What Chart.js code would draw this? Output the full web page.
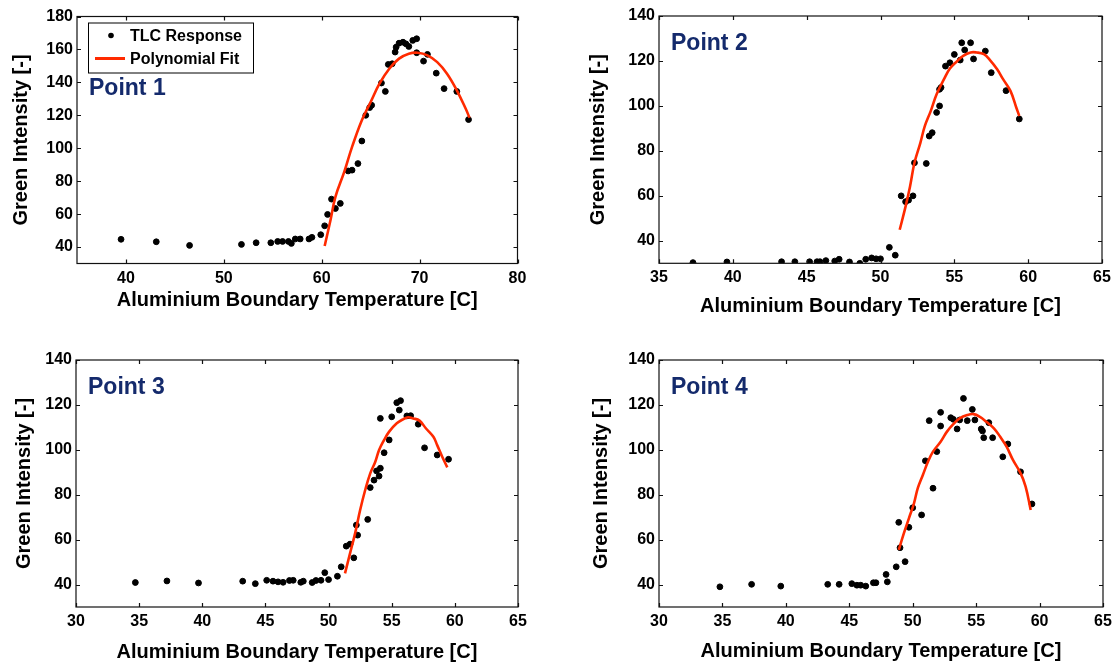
<!DOCTYPE html>
<html>
<head>
<meta charset="utf-8">
<script src="https://cdn.jsdelivr.net/npm/chart.js@4.4.1/dist/chart.umd.min.js"></script>
<style>
  html, body { margin: 0; padding: 0; background: #fff; }
  #wrap { position: relative; width: 1117px; height: 665px; overflow: hidden; }
  canvas { position: absolute; }
</style>
</head>
<body>
<div id="wrap">
  <canvas id="c1" width="558" height="330" style="left:0;top:0"></canvas>
  <canvas id="c2" width="559" height="330" style="left:558px;top:0"></canvas>
  <canvas id="c3" width="558" height="335" style="left:0;top:330px"></canvas>
  <canvas id="c4" width="559" height="335" style="left:558px;top:330px"></canvas>
</div>
<script>
// ---- Point 1 ----
var p1Temp  = [39.5, 43.1, 46.5, 51.8, 53.3, 54.8, 55.5, 56.0, 56.6, 56.9, 57.3, 57.8, 58.7, 59.0, 59.9,
               60.3, 60.6, 61.0, 61.4, 61.9, 62.7, 63.1, 63.7, 64.1, 64.5, 64.9, 65.1, 66.1, 66.5, 66.8,
               67.2, 67.5, 67.6, 67.9, 68.3, 68.6, 68.9, 69.3, 69.7, 69.7, 70.4, 70.8, 71.7, 72.5, 73.8, 75.0];
var p1Green = [44.7, 43.2, 41.0, 41.6, 42.6, 42.6, 43.4, 43.4, 43.4, 42.2, 44.9, 44.9, 44.9, 45.9, 47.5,
               52.9, 59.8, 69.1, 63.4, 66.5, 86.2, 86.7, 90.7, 104.4, 120.0, 124.7, 126.1, 139.6, 134.5, 150.9,
               151.3, 158.4, 161.4, 163.8, 164.4, 163.4, 161.8, 165.5, 166.5, 158.0, 152.9, 157.0, 145.6, 136.2, 134.5, 117.4];
var p1FitX  = [60.3, 60.9, 61.4, 62.3, 63.1, 64.1, 65.0, 65.9, 66.9, 67.9, 68.9, 69.8, 70.8, 71.8, 72.8, 73.8, 74.7, 75.1];
var p1FitY  = [40.6, 56.4, 70.5, 85.6, 100.8, 117.0, 128.1, 139.2, 148.3, 154.4, 157.4, 158.0, 156.4, 152.3, 145.3, 135.2, 124.1, 118.5];
var p1XTicks = [40, 50, 60, 70, 80];
var p1YTicks = [40, 60, 80, 100, 120, 140, 160, 180];

// ---- Point 2 ----
var p2Temp  = [37.3, 39.6, 43.3, 44.2, 45.2, 45.7, 45.9, 46.3, 46.9, 47.2, 47.9, 48.6, 49.0, 49.4, 49.7, 50.0, 50.6, 51.0,
               51.4, 51.7, 51.9, 52.2, 52.3, 53.1, 53.3, 53.5, 53.8, 54.0, 54.0, 54.1, 54.4, 54.7, 55.0, 55.4, 55.5,
               55.7, 56.1, 56.3, 57.1, 57.5, 58.5, 59.4];
var p2Green = [30.3, 30.6, 30.7, 30.7, 30.7, 30.7, 30.7, 31.2, 31.0, 31.8, 30.6, 30.0, 31.8, 32.4, 32.0, 32.0, 37.1, 33.6,
               60.0, 57.4, 58.1, 60.0, 74.7, 74.4, 86.6, 88.1, 97.1, 100.0, 107.4, 108.2, 117.7, 119.2, 122.9, 120.4, 128.1,
               124.9, 128.1, 120.9, 124.4, 114.8, 106.8, 94.2];
var p2FitX  = [51.3, 51.7, 52.0, 52.3, 52.7, 53.0, 53.4, 53.8, 54.3, 54.7, 55.2, 55.6, 56.1, 56.5, 57.0, 57.4, 57.9, 58.3, 58.8, 59.2, 59.4];
var p2FitY  = [44.9, 55.3, 64.2, 74.7, 83.6, 91.0, 97.7, 105.2, 111.9, 116.6, 120.0, 122.3, 123.8, 123.8, 123.0, 120.5, 116.3, 111.9, 106.7, 99.2, 95.5];
var p2XTicks = [35, 40, 45, 50, 55, 60, 65];
var p2YTicks = [40, 60, 80, 100, 120, 140];

// ---- Point 3 ----
var p3Temp  = [34.7, 37.2, 39.7, 43.2, 44.2, 45.1, 45.6, 46.0, 46.4, 46.9, 47.2, 47.8, 48.0, 48.7, 49.0, 49.4, 50.0, 49.7,
               50.7, 51.0, 51.4, 51.7, 52.0, 52.2, 52.3, 53.1, 53.3, 53.6, 53.8, 54.0, 54.1, 54.1, 54.4, 54.8, 55.0,
               55.4, 55.7, 55.6, 56.2, 56.5, 57.1, 57.6, 58.6, 59.5];
var p3Green = [40.9, 41.6, 40.7, 41.5, 40.4, 41.9, 41.5, 41.2, 41.0, 41.8, 41.9, 41.0, 41.5, 40.9, 41.8, 41.9, 42.2, 45.3,
               43.7, 47.9, 57.1, 58.0, 51.9, 66.5, 62.0, 69.0, 83.2, 86.5, 90.6, 88.3, 91.8, 114.0, 98.7, 104.4, 114.7,
               121.0, 121.9, 117.7, 115.1, 115.2, 111.4, 100.9, 97.7, 95.8];
var p3FitX  = [51.3, 51.7, 52.1, 52.5, 52.9, 53.3, 53.7, 54.0, 54.4, 54.8, 55.4, 55.9, 56.3, 56.7, 57.2, 57.7, 58.3, 58.6, 59.0, 59.4];
var p3FitY  = [45.0, 53.9, 62.8, 73.2, 82.1, 89.5, 94.7, 99.9, 104.4, 108.1, 111.8, 113.6, 114.5, 114.0, 113.0, 109.6, 105.8, 102.1, 96.9, 92.2];
var p3XTicks = [30, 35, 40, 45, 50, 55, 60, 65];
var p3YTicks = [40, 60, 80, 100, 120, 140];

// ---- Point 4 ----
var p4Temp  = [34.8, 37.3, 39.6, 43.3, 44.2, 45.2, 45.6, 45.9, 46.3, 46.9, 47.1, 47.9, 48.0, 48.7, 49.4, 49.0, 48.9, 49.7,
               50.0, 50.7, 51.6, 51.0, 51.9, 51.3, 52.2, 52.2, 53.0, 53.2, 53.5, 53.7, 54.0, 54.3, 54.7, 54.9, 55.4,
               55.5, 55.6, 56.0, 56.3, 57.1, 57.5, 58.5, 59.4];
var p4Green = [39.0, 40.1, 39.3, 40.1, 40.1, 40.4, 39.7, 39.7, 39.3, 40.8, 40.8, 44.5, 41.2, 47.9, 50.2, 56.4, 67.7, 65.5,
               74.2, 71.0, 82.9, 95.1, 99.2, 113.0, 110.6, 116.7, 114.3, 113.6, 109.3, 113.3, 122.9, 113.0, 118.0, 113.3, 109.3,
               108.4, 105.4, 112.1, 105.4, 96.9, 102.6, 90.2, 75.9];
var p4FitX  = [48.9, 49.3, 49.7, 50.1, 50.4, 50.8, 51.2, 51.6, 52.2, 52.7, 53.2, 53.7, 54.3, 54.8, 55.3, 55.8, 56.4, 56.9, 57.4, 57.9, 58.5, 58.9, 59.3];
var p4FitY  = [55.4, 62.8, 69.5, 76.2, 82.9, 88.8, 94.7, 99.2, 103.6, 108.1, 111.4, 114.0, 115.5, 115.9, 114.7, 112.5, 109.6, 105.8, 101.4, 95.5, 89.6, 83.6, 73.2];
var p4XTicks = [30, 35, 40, 45, 50, 55, 60, 65];
var p4YTicks = [40, 60, 80, 100, 120, 140];

var FONT = '"Liberation Sans", Arial, Helvetica, sans-serif';
var RED = '#ff2a00';
var NAVY = '#142a6c';

function toXY(xs, ys) {
  return xs.map(function (v, i) { return { x: v, y: ys[i] }; });
}

// box, inward ticks, "Point n" label and the legend
var framePlugin = {
  id: 'frame',
  afterDatasetsDraw: function (chart, args, opts) {
    var ctx = chart.ctx, a = chart.chartArea;
    var xs = chart.scales.x, ys = chart.scales.y;
    ctx.save();
    ctx.strokeStyle = '#111';
    ctx.lineWidth = 1.2;
    ctx.strokeRect(a.left, a.top, a.right - a.left, a.bottom - a.top);
    ctx.beginPath();
    xs.ticks.forEach(function (t) {
      var px = Math.round(xs.getPixelForValue(t.value)) + 0.5;
      ctx.moveTo(px, a.bottom); ctx.lineTo(px, a.bottom - 4);
      ctx.moveTo(px, a.top); ctx.lineTo(px, a.top + 4);
    });
    ys.ticks.forEach(function (t) {
      var py = Math.round(ys.getPixelForValue(t.value)) + 0.5;
      ctx.moveTo(a.left, py); ctx.lineTo(a.left + 4, py);
      ctx.moveTo(a.right, py); ctx.lineTo(a.right - 4, py);
    });
    ctx.stroke();

    ctx.fillStyle = NAVY;
    ctx.font = 'bold 23px ' + FONT;
    ctx.textBaseline = 'alphabetic';
    ctx.textAlign = 'left';
    ctx.fillText(opts.label, a.left + 12, a.top + opts.labelDy);

    if (opts.legend) {
      var lx = a.left + 11, ly = a.top + 6, lw = 165, lh = 50;
      ctx.fillStyle = '#fff';
      ctx.fillRect(lx, ly, lw, lh);
      ctx.strokeStyle = '#000';
      ctx.lineWidth = 1;
      ctx.strokeRect(lx + 0.5, ly + 0.5, lw, lh);
      var ds = chart.data.datasets;
      ctx.font = 'bold 16px ' + FONT;
      ctx.textBaseline = 'middle';
      ctx.fillStyle = '#000';
      ctx.beginPath();
      ctx.arc(lx + 23, ly + 13, 2.8, 0, Math.PI * 2);
      ctx.fill();
      ctx.fillText(ds[0].label, lx + 42, ly + 14);
      ctx.strokeStyle = RED;
      ctx.lineWidth = 3;
      ctx.beginPath();
      ctx.moveTo(lx + 7, ly + 36); ctx.lineTo(lx + 37, ly + 36);
      ctx.stroke();
      ctx.fillText(ds[1].label, lx + 42, ly + 37);
    }
    ctx.restore();
  }
};

function makePanel(id, p) {
  return new Chart(document.getElementById(id), {
    type: 'scatter',
    data: {
      datasets: [{
        label: 'TLC Response',
        data: toXY(p.tx, p.gy),
        backgroundColor: '#000',
        borderColor: '#000',
        pointRadius: 2.9,
        pointHoverRadius: 2.9,
        order: 2
      }, {
        label: 'Polynomial Fit',
        data: toXY(p.fx, p.fy),
        showLine: true,
        borderColor: RED,
        borderWidth: 2.6,
        pointRadius: 0,
        tension: 0.4,
        order: 1
      }]
    },
    options: {
      responsive: false,
      animation: false,
      events: [],
      layout: { padding: { left: 0, top: p.top, right: p.right, bottom: 0 } },
      plugins: {
        legend: { display: false },
        tooltip: { enabled: false },
        frame: { label: p.label, labelDy: p.labelDy, legend: p.legend }
      },
      scales: {
        x: {
          type: 'linear',
          min: p.xmin, max: p.xmax,
          afterBuildTicks: function (s) { s.ticks = p.xt.map(function (v) { return { value: v }; }); },
          afterFit: function (s) { s.height = p.xh; },
          grid: { display: false, drawTicks: false },
          border: { display: false },
          ticks: { padding: 5, color: '#000', font: { family: FONT, size: 16, weight: 'bold' } },
          title: {
            display: true, text: 'Aluminium Boundary Temperature [C]', color: '#000',
            font: { family: FONT, size: 20, weight: 'bold' },
            padding: { top: 0, bottom: p.xtPad }
          }
        },
        y: {
          type: 'linear',
          min: p.ymin, max: p.ymax,
          afterBuildTicks: function (s) { s.ticks = p.yt.map(function (v) { return { value: v }; }); },
          afterFit: function (s) { s.width = p.yw; },
          grid: { display: false, drawTicks: false },
          border: { display: false },
          ticks: { padding: 4, color: '#000', font: { family: FONT, size: 16, weight: 'bold' } },
          title: {
            display: true, text: 'Green Intensity [-]', color: '#000',
            font: { family: FONT, size: 20, weight: 'bold' },
            padding: { top: p.ytPad, bottom: 0 }
          }
        }
      }
    },
    plugins: [framePlugin]
  });
}

makePanel('c1', { tx: p1Temp, gy: p1Green, fx: p1FitX, fy: p1FitY, xt: p1XTicks, yt: p1YTicks,
  xmin: 35, xmax: 80, ymin: 30, ymax: 180, label: 'Point 1', labelDy: 78, legend: true,
  top: 16.5, right: 40.5, yw: 77, xh: 66.5, xtPad: 18, ytPad: 9 });
makePanel('c2', { tx: p2Temp, gy: p2Green, fx: p2FitX, fy: p2FitY, xt: p2XTicks, yt: p2YTicks,
  xmin: 35, xmax: 65, ymin: 30, ymax: 140, label: 'Point 2', labelDy: 34, legend: false,
  top: 16, right: 15, yw: 101, xh: 66.7, xtPad: 12, ytPad: 28 });
makePanel('c3', { tx: p3Temp, gy: p3Green, fx: p3FitX, fy: p3FitY, xt: p3XTicks, yt: p3YTicks,
  xmin: 30, xmax: 65, ymin: 30, ymax: 140, label: 'Point 3', labelDy: 34, legend: false,
  top: 30, right: 40, yw: 76, xh: 58, xtPad: 1, ytPad: 12 });
makePanel('c4', { tx: p4Temp, gy: p4Green, fx: p4FitX, fy: p4FitY, xt: p4XTicks, yt: p4YTicks,
  xmin: 30, xmax: 65, ymin: 30, ymax: 140, label: 'Point 4', labelDy: 34, legend: false,
  top: 30, right: 14, yw: 101, xh: 58, xtPad: 2, ytPad: 31 });
</script>
</body>
</html>
